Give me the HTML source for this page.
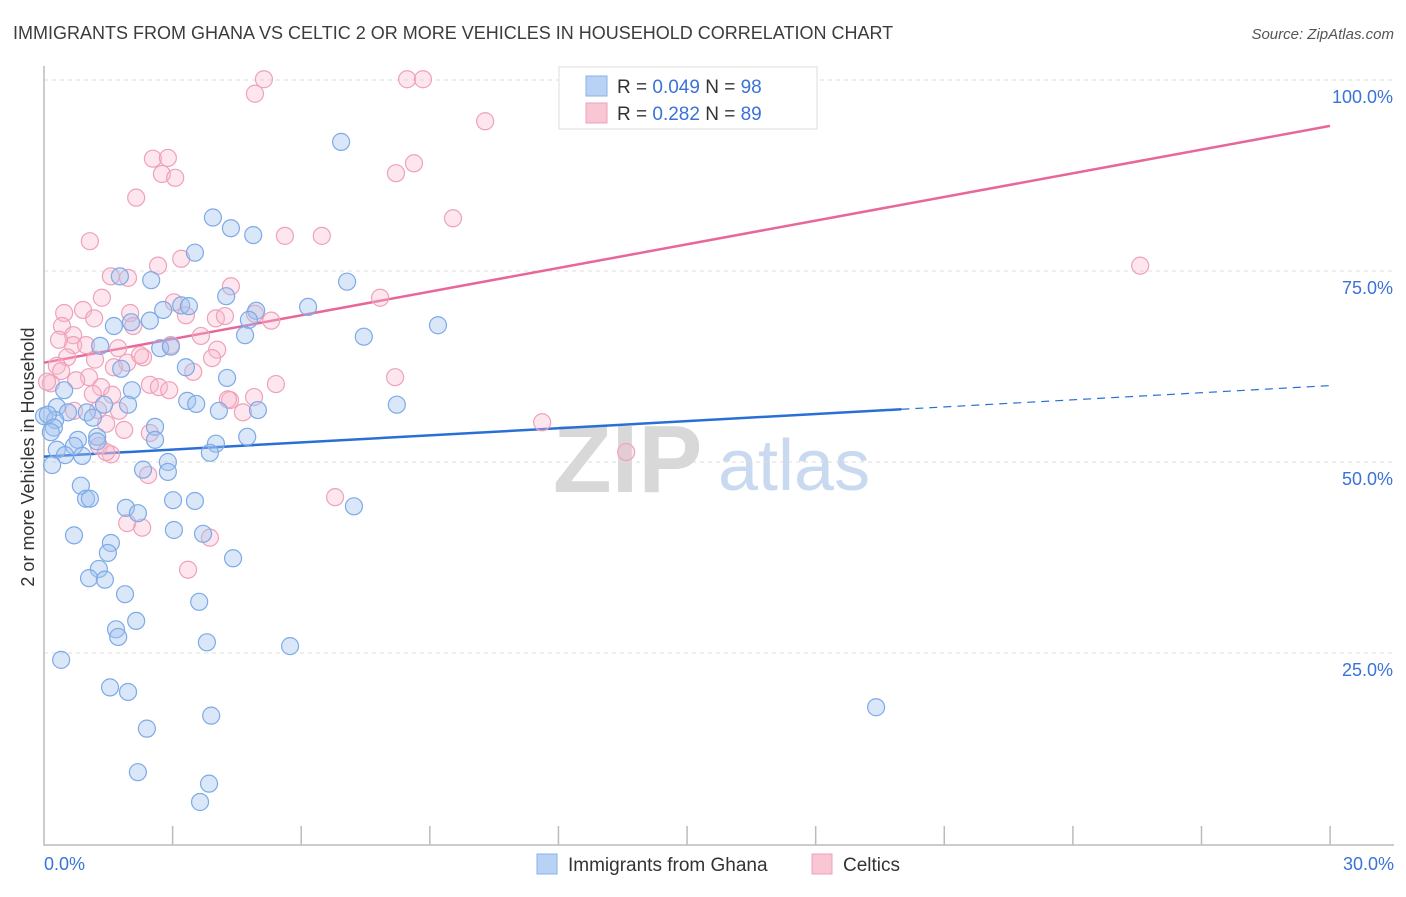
<!DOCTYPE html>
<html><head><meta charset="utf-8">
<style>
body{margin:0;background:#fff;font-family:"Liberation Sans",sans-serif;}
svg text{font-family:"Liberation Sans",sans-serif;}
</style></head>
<body>
<svg id="chart" width="1406" height="892" xmlns="http://www.w3.org/2000/svg">
<text x="13" y="39" font-size="18" fill="#3c3c3c">IMMIGRANTS FROM GHANA VS CELTIC 2 OR MORE VEHICLES IN HOUSEHOLD CORRELATION CHART</text>
<text x="1394" y="39" font-size="15" fill="#555" text-anchor="end" font-style="italic">Source: ZipAtlas.com</text>
<g>
<text x="553" y="492" font-size="96" font-family="Liberation Serif,serif" fill="#d8d8d8" font-weight="bold">ZIP</text>
<text x="718" y="490" font-size="72" fill="#c8d9f0">atlas</text>
</g>
<g id="grid"></g>
<g id="axes"></g>
<g id="trends"></g>
<g id="points"></g>
<text transform="translate(34,457) rotate(-90)" font-size="18" fill="#333" text-anchor="middle">2 or more Vehicles in Household</text>
<g>
<rect x="559" y="67" width="258" height="62" fill="#fff" stroke="#ddd"/>
<rect x="586" y="76" width="21" height="20" fill="#b8d2f5" stroke="#8ab0e6"/>
<rect x="586" y="103" width="21" height="20" fill="#f9c6d4" stroke="#eea2ba"/>
<text x="617" y="93" font-size="19" fill="#333">R = <tspan fill="#3a72d8">0.049</tspan>    N = <tspan fill="#3a72d8">98</tspan></text>
<text x="617" y="120" font-size="19" fill="#333">R =  <tspan fill="#3a72d8">0.282</tspan>    N = <tspan fill="#3a72d8">89</tspan></text>
</g>
<g>
<rect x="537" y="854" width="20" height="20" fill="#b8d2f5" stroke="#8ab0e6"/>
<text x="568" y="871" font-size="19" fill="#333">Immigrants from Ghana</text>
<rect x="812" y="854" width="20" height="20" fill="#f9c6d4" stroke="#eea2ba"/>
<text x="843" y="871" font-size="19" fill="#333">Celtics</text>
</g>
</svg>
<script>
const blueX=[6.93,3.94,4.36,4.88,3.52,1.77,2.50,7.07,4.25,6.16,3.20,3.38,2.78,4.95,1.63,2.03,2.47,4.78,4.69,7.46,9.19,1.31,2.71,2.96,3.31,1.80,4.27,2.05,0.47,3.34,3.55,1.96,1.40,8.23,4.99,4.08,0.30,0.56,1.00,1.14,0.0,0.26,0.09,0.23,0.16,2.59,2.59,4.74,1.24,4.01,0.79,1.24,0.70,3.87,0.30,0.49,0.89,2.89,0.19,2.31,2.89,0.86,0.98,1.07,3.01,3.52,7.23,1.91,2.19,3.03,3.71,0.70,1.56,1.49,4.41,1.28,1.05,1.42,1.89,3.62,2.15,1.68,1.73,3.80,5.74,0.40,1.54,1.96,19.41,3.90,2.40,2.19,3.85,3.64];
const blueY=[91.9,82.0,80.6,79.7,77.4,74.3,73.8,73.6,71.7,70.3,70.5,70.4,69.9,69.8,67.8,68.3,68.5,68.6,66.6,66.4,67.9,65.2,64.9,65.1,62.4,62.2,61.0,59.4,59.4,58.0,57.6,57.5,57.5,57.5,56.8,56.7,57.2,56.5,56.5,55.8,56.0,55.5,56.2,54.5,53.9,54.6,52.9,53.3,53.3,52.4,52.9,52.7,52.1,51.2,51.6,50.9,50.8,50.0,49.6,49.0,48.7,46.9,45.2,45.2,45.0,44.9,44.2,44.0,43.3,41.1,40.6,40.4,39.4,38.1,37.4,36.0,34.8,34.6,32.7,31.7,29.2,28.1,27.1,26.4,25.9,24.1,20.5,19.9,17.9,16.8,15.1,9.4,7.9,5.5];
const pinkX=[5.13,4.92,8.47,8.84,10.29,2.54,2.89,2.75,3.06,8.63,8.21,2.15,9.54,5.62,6.48,1.07,2.66,3.20,25.57,1.56,1.96,4.36,7.84,1.35,3.03,3.31,0.47,0.91,1.17,2.01,2.08,4.92,5.30,4.01,4.22,0.42,0.68,3.66,0.35,0.68,0.98,1.73,2.96,2.31,4.04,3.92,0.54,1.94,1.19,1.63,2.24,0.30,0.40,1.05,0.75,3.48,0.16,0.07,2.47,2.68,2.92,5.41,1.33,8.19,4.34,4.29,4.90,1.59,1.14,1.26,0.70,4.64,1.75,1.45,1.87,2.47,1.28,1.56,1.45,2.43,11.62,13.58,6.79,1.94,2.29,3.87,3.36];
const pinkY=[100.1,98.2,100.1,100.1,94.6,89.7,89.8,87.7,87.2,89.1,87.8,84.6,81.9,79.6,79.6,78.9,75.7,76.6,75.7,74.3,74.1,73.0,71.5,71.5,70.9,69.2,69.5,69.9,68.8,69.5,67.8,69.4,68.5,68.8,69.1,67.8,66.6,66.5,66.0,65.3,65.3,64.9,65.3,63.7,64.7,63.6,63.7,63.0,63.4,62.4,64.0,62.6,61.9,61.1,60.7,61.8,60.3,60.5,60.1,59.8,59.4,60.2,59.8,61.1,58.1,58.2,58.5,58.8,58.9,56.8,56.7,56.5,56.7,55.0,54.2,53.8,52.1,51.0,51.3,48.3,55.2,51.3,45.4,42.0,41.4,40.1,35.9];
const yTicks=[25,50,75,100];
const yTickLabels=["25.0%","50.0%","75.0%","100.0%"];
const xTicks=[0,3,6,9,12,15,18,21,24,27,30];
const xEndLabels=["0.0%","30.0%"];
const blueTrend=[50.7,0.31]; // intercept, slope
const pinkTrend=[63.0,1.033];
const blueSolidEnd=[20.0];

const NS="http://www.w3.org/2000/svg";
const X=v=>44+v*42.87, Y=v=>844-v*7.64;
function mk(parent,tag,attrs){const e=document.createElementNS(NS,tag);for(const k in attrs)e.setAttribute(k,attrs[k]);document.getElementById(parent).appendChild(e);return e;}
yTicks.forEach((t,i)=>{
  const g=mk('grid','line',{x1:44,x2:1394,y1:Y(t),y2:Y(t),stroke:'#ddd','stroke-dasharray':'4,4'});
  
  
  const l=mk('axes','text',{x:1393,y:Y(t)+23,'font-size':18,fill:'#3a72d8','text-anchor':'end'});
  l.textContent=yTickLabels[i];
  
  
});
const ax=mk('axes','path',{d:`M44,66V845H1394`,fill:'none',stroke:'#bbb','stroke-width':1.5});


xTicks.slice(1).forEach(t=>{
  const tk=mk('axes','line',{x1:X(t),x2:X(t),y1:826,y2:845,stroke:'#bbb','stroke-width':1.5});
  
  
});
const xl0=mk('axes','text',{x:44,y:870,'font-size':18,fill:'#3a72d8'});xl0.textContent=xEndLabels[0];


const xl1=mk('axes','text',{x:1394,y:870,'font-size':18,fill:'#3a72d8','text-anchor':'end'});xl1.textContent=xEndLabels[1];



pinkX.forEach((x,i)=>{
  const c=mk('points','circle',{cx:X(x),cy:Y(pinkY[i]),r:8.5,fill:'rgba(248,182,202,0.35)',stroke:'#eea2ba','stroke-width':1.2});
  
  
});
blueX.forEach((x,i)=>{
  const c=mk('points','circle',{cx:X(x),cy:Y(blueY[i]),r:8.5,fill:'rgba(160,196,240,0.4)',stroke:'#7eaae6','stroke-width':1.2});
  
  
});
const bt=v=>blueTrend[0]+blueTrend[1]*v, pt=v=>pinkTrend[0]+pinkTrend[1]*v;
const l1=mk('trends','line',{x1:X(0),y1:Y(bt(0)),x2:X(blueSolidEnd[0]),y2:Y(bt(blueSolidEnd[0])),stroke:'#2a6fd6','stroke-width':2.5});


const l2=mk('trends','line',{x1:X(blueSolidEnd[0]),y1:Y(bt(blueSolidEnd[0])),x2:X(30),y2:Y(bt(30)),stroke:'#2a6fd6','stroke-width':1.2,'stroke-dasharray':'8,6'});


const l3=mk('trends','line',{x1:X(0),y1:Y(pt(0)),x2:X(30),y2:Y(pt(30)),stroke:'#e8679a','stroke-width':2.5});


</script>
</body></html>
